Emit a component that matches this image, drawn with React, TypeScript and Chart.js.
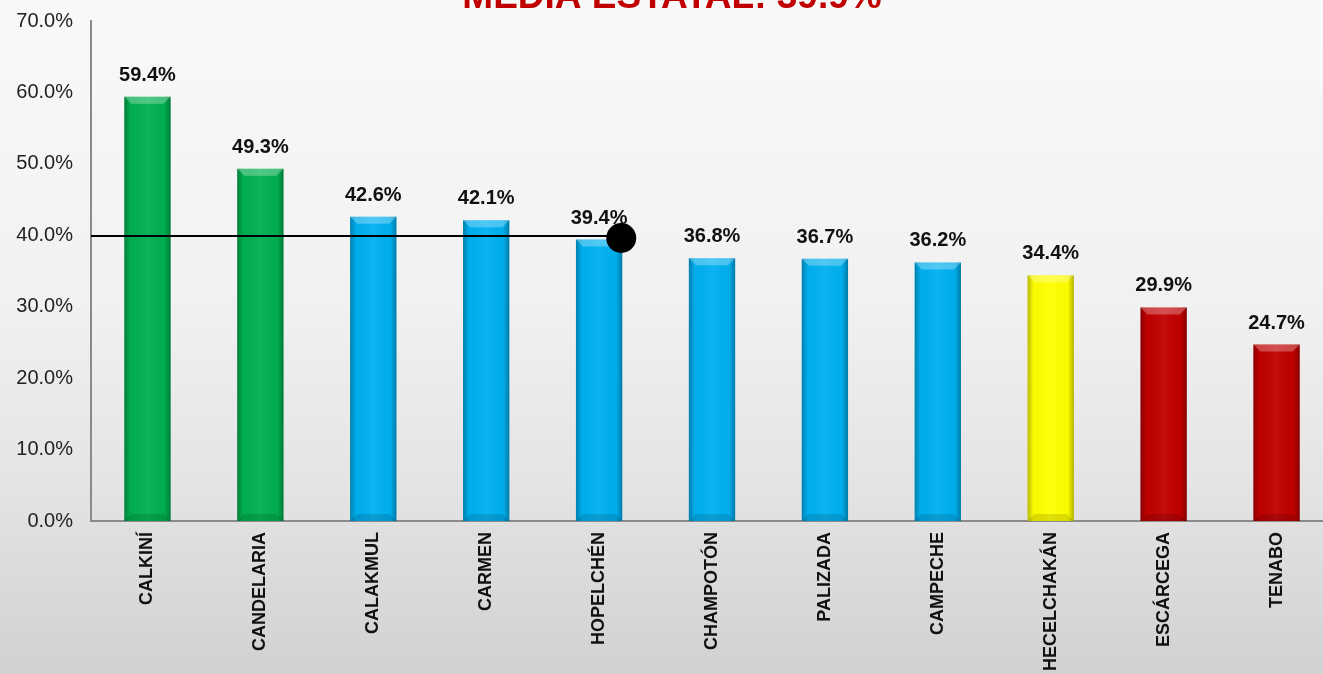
import React, { useEffect, useRef } from "react";
import { Chart, registerables } from "chart.js";

Chart.register(...registerables);

const TITLE = "MEDIA ESTATAL: 39.9%";
const MEAN_VALUE = 39.9;
const MEAN_END_INDEX = 4;

const CATEGORIES = [
  "CALKINÍ",
  "CANDELARIA",
  "CALAKMUL",
  "CARMEN",
  "HOPELCHÉN",
  "CHAMPOTÓN",
  "PALIZADA",
  "CAMPECHE",
  "HECELCHAKÁN",
  "ESCÁRCEGA",
  "TENABO",
];

const VALUES = [59.4, 49.3, 42.6, 42.1, 39.4, 36.8, 36.7, 36.2, 34.4, 29.9, 24.7];

const BAR_COLORS = [
  "#00b050",
  "#00b050",
  "#00b0f0",
  "#00b0f0",
  "#00b0f0",
  "#00b0f0",
  "#00b0f0",
  "#00b0f0",
  "#ffff00",
  "#c00000",
  "#c00000",
];

const Y_MIN = 0;
const Y_MAX = 70;
const Y_STEP = 10;

const FONT = "'Liberation Sans', Arial, Helvetica, sans-serif";

const backgroundPlugin = {
  id: "bgGradient",
  beforeDraw(chart: any) {
    const { ctx, width, height } = chart;
    ctx.save();
    const g = ctx.createLinearGradient(0, 0, 0, height);
    g.addColorStop(0, "#f9f9f9");
    g.addColorStop(0.45, "#f1f1f1");
    g.addColorStop(0.72, "#e4e4e4");
    g.addColorStop(1, "#d1d1d1");
    ctx.fillStyle = g;
    ctx.fillRect(0, 0, width, height);
    ctx.restore();
  },
};

const bevelPlugin = {
  id: "bevel",
  afterDatasetsDraw(chart: any) {
    const { ctx } = chart;
    const meta = chart.getDatasetMeta(0);
    ctx.save();
    meta.data.forEach((el: any, i: number) => {
      const { x, y, base, width } = el.getProps(["x", "y", "base", "width"], true);
      const l = x - width / 2;
      const r = x + width / 2;
      const t = y;
      const b = base;
      const bev = 7;
      const g = ctx.createLinearGradient(l, 0, r, 0);
      g.addColorStop(0, "rgba(0,0,0,0.28)");
      g.addColorStop(0.13, "rgba(0,0,0,0.02)");
      g.addColorStop(0.5, "rgba(255,255,255,0.05)");
      g.addColorStop(0.87, "rgba(0,0,0,0.02)");
      g.addColorStop(1, "rgba(0,0,0,0.30)");
      ctx.fillStyle = g;
      ctx.fillRect(l, t, width, b - t);
      ctx.beginPath();
      ctx.moveTo(l, t);
      ctx.lineTo(r, t);
      ctx.lineTo(r - bev, t + bev);
      ctx.lineTo(l + bev, t + bev);
      ctx.closePath();
      ctx.fillStyle = "rgba(255,255,255,0.28)";
      ctx.fill();
      ctx.beginPath();
      ctx.moveTo(l, b);
      ctx.lineTo(r, b);
      ctx.lineTo(r - bev, b - bev);
      ctx.lineTo(l + bev, b - bev);
      ctx.closePath();
      ctx.fillStyle = "rgba(0,0,0,0.12)";
      ctx.fill();

      ctx.fillStyle = "#111";
      ctx.font = `bold 20px ${FONT}`;
      ctx.textAlign = "center";
      ctx.textBaseline = "alphabetic";
      ctx.fillText(VALUES[i].toFixed(1) + "%", x, t - 16);
    });
    ctx.restore();
  },
};

const meanPlugin = {
  id: "meanLine",
  afterDatasetsDraw(chart: any) {
    const { ctx, chartArea } = chart;
    const yScale = chart.scales.y;
    const meta = chart.getDatasetMeta(0);
    const el = meta.data[MEAN_END_INDEX];
    if (!el) return;
    const { x, width } = el.getProps(["x", "width"], true);
    const xEnd = x + width / 2;
    const y = yScale.getPixelForValue(MEAN_VALUE);
    ctx.save();
    ctx.strokeStyle = "#000";
    ctx.lineWidth = 2;
    ctx.beginPath();
    ctx.moveTo(chartArea.left, y);
    ctx.lineTo(xEnd, y);
    ctx.stroke();
    ctx.fillStyle = "#000";
    ctx.beginPath();
    ctx.arc(xEnd - 1, y + 2, 15, 0, Math.PI * 2);
    ctx.fill();
    ctx.restore();
  },
};

const titlePlugin = {
  id: "cutTitle",
  afterDraw(chart: any) {
    const { ctx } = chart;
    ctx.save();
    ctx.fillStyle = "#c00000";
    ctx.font = `bold 37px ${FONT}`;
    ctx.textAlign = "center";
    ctx.textBaseline = "alphabetic";
    ctx.fillText(TITLE, 672, 8);
    ctx.restore();
  },
};

export default function App() {
  const canvasRef = useRef<HTMLCanvasElement | null>(null);

  useEffect(() => {
    if (!canvasRef.current) return;
    const chart = new Chart(canvasRef.current, {
      type: "bar",
      data: {
        labels: CATEGORIES,
        datasets: [
          {
            data: VALUES,
            backgroundColor: BAR_COLORS,
            borderWidth: 0,
            barPercentage: 0.41,
            categoryPercentage: 1,
          },
        ],
      },
      options: {
        animation: false,
        responsive: false,
        events: [],
        layout: { padding: { top: 21, right: 3, left: 0, bottom: 0 } },
        plugins: {
          legend: { display: false },
          title: { display: false },
          tooltip: { enabled: false },
        },
        scales: {
          x: {
            grid: { display: false, drawTicks: false },
            border: { display: true, color: "#8a8a8a", width: 2 },
            ticks: {
              autoSkip: false,
              maxRotation: 90,
              minRotation: 90,
              padding: 11,
              color: "#111",
              font: { family: FONT, size: 18, weight: "bold" },
            },
            afterFit(scale: any) {
              scale.height = 153;
            },
          },
          y: {
            min: Y_MIN,
            max: Y_MAX,
            grid: { display: false, drawTicks: false },
            border: { display: true, color: "#8a8a8a", width: 2 },
            ticks: {
              stepSize: Y_STEP,
              padding: 18,
              color: "#222",
              font: { family: FONT, size: 20 },
              callback: (v: any) => Number(v).toFixed(1) + "%",
            },
            afterFit(scale: any) {
              scale.width = 91;
              scale.paddingTop = 0;
              scale.paddingBottom = 0;
            },
          },
        },
      },
      plugins: [backgroundPlugin, bevelPlugin, meanPlugin, titlePlugin],
    });
    return () => chart.destroy();
  }, []);

  return (
    <div
      style={{
        position: "fixed",
        left: 0,
        top: 0,
        width: 1323,
        height: 674,
        overflow: "hidden",
      }}
    >
      <canvas ref={canvasRef} width={1336} height={674} style={{ display: "block" }} />
    </div>
  );
}
